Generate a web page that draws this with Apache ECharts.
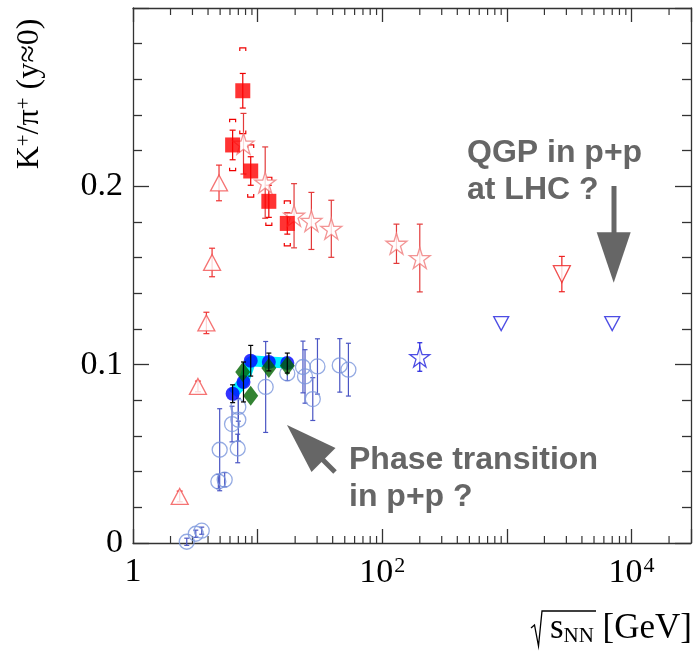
<!DOCTYPE html>
<html>
<head>
<meta charset="utf-8">
<script src="https://cdn.jsdelivr.net/npm/echarts@6/dist/echarts.min.js"></script>
<style>
  html, body { margin: 0; padding: 0; background: #fff; }
  #chart { width: 696px; height: 652px; }
</style>
</head>
<body>
<div id="chart"></div>
<script>
// ---- data (sqrt(s_NN) in GeV, K+/pi+ ratio, error) ----
// p+p world data (open circles)
const ppWorldE = [2.70, 3.19, 3.56, 4.84, 5.44, 4.96, 6.23, 7.0, 7.0, 6.92, 11.6, 17.3, 23.1, 24.0, 30.2, 27.7, 45.6, 53.5];
const ppWorldR = [0.0007, 0.0052, 0.0069, 0.0345, 0.0355, 0.0523, 0.0667, 0.0691, 0.0763, 0.0530, 0.0875, 0.0951, 0.0987, 0.0934, 0.0990, 0.0807, 0.0996, 0.0972];
const ppWorldErr = [0.002, 0.002, 0.002, 0.004, 0.004, 0.023, 0.010, 0.012, 0.008, 0.008, 0.0255, 0.004, 0.0145, 0.015, 0.0155, 0.012, 0.015, 0.0148];

// NA61 p+p (blue full circles)
const na61E = [6.3, 7.7, 8.8, 12.3, 17.3];
const na61R = [0.0837, 0.0903, 0.1022, 0.1015, 0.1009];
const na61Err = [0.005, 0.0112, 0.0086, 0.005, 0.0056];

// model / p+p (green diamonds)
const diamE = [7.6, 8.8, 12.3, 17.3];
const diamR = [0.0959, 0.0826, 0.0981, 0.0994];

// AGS A+A (open up triangles)
const agsE = [2.37, 3.32, 3.88, 4.31, 4.9];
const agsR = [0.0261, 0.0878, 0.1234, 0.1573, 0.2019];
const agsErr = [0.003, 0.003, 0.006, 0.008, 0.010];

// STAR Au+Au (open stars)
const starE = [7.7, 11.5, 19.6, 27, 39, 130, 200];
const starR = [0.2239, 0.2021, 0.1835, 0.1806, 0.1762, 0.1678, 0.1598];
const starErr = [0.017, 0.020, 0.018, 0.016, 0.016, 0.011, 0.019];

// NA49 Pb+Pb (full squares)
const na49E = [6.3, 7.6, 8.8, 12.3, 17.3];
const na49R = [0.2232, 0.2536, 0.2086, 0.1916, 0.1792];
const na49Err = [0.0083, 0.0097, 0.008, 0.009, 0.006];
const na49Sys = [0.0144, 0.024, 0.0146, 0.0135, 0.0126];

// ALICE Pb+Pb (open down triangle)
const aliceE = [2760];
const aliceR = [0.1508];
const aliceErr = [0.0099];

// p+p at LHC (blue down triangles) and RHIC (blue star)
const lhcPpE = [900, 7000];
const lhcPpR = [0.1230, 0.1230];
const rhicPpE = [200];
const rhicPpR = [0.1043];
const rhicPpErr = [0.008];

// axis
const xMinorTicks = [2, 3, 4, 5, 6, 7, 8, 9, 20, 30, 40, 50, 60, 70, 80, 90,
  200, 300, 400, 500, 600, 700, 800, 900, 2000, 3000, 4000, 5000, 6000, 7000, 8000, 9000, 20000];
const xLabels = { 1: '{n|1}', 100: '{n|10}{s|2}', 10000: '{n|10}{s|4}' };
const yLabels = ['0', '0.1', '0.2'];

const zip = (a, b, c, d) => a.map((v, i) => [v, b[i]].concat(c ? [c[i]] : []).concat(d ? [d[i]] : []));

const starPath = 'path://M50,0 L61.2,34.5 L97.6,34.5 L68.2,55.9 L79.4,90.5 L50,69.1 L20.6,90.5 L31.8,55.9 L2.4,34.5 L38.8,34.5 Z';
const serif = '"Liberation Serif", "Times New Roman", serif';
const sans = '"Liberation Sans", Arial, sans-serif';

function errBars(color, cap, width) {
  return function (params, api) {
    const x = api.value(0), y = api.value(1), e = api.value(2);
    const t = api.coord([x, y + e]);
    const b = api.coord([x, y - e]);
    const st = { stroke: color, lineWidth: width || 1.2 };
    return {
      type: 'group',
      children: [
        { type: 'line', shape: { x1: t[0], y1: t[1], x2: b[0], y2: b[1] }, style: st },
        { type: 'line', shape: { x1: t[0] - cap, y1: t[1], x2: t[0] + cap, y2: t[1] }, style: st },
        { type: 'line', shape: { x1: b[0] - cap, y1: b[1], x2: b[0] + cap, y2: b[1] }, style: st }
      ]
    };
  };
}

function sysBrackets(color) {
  return function (params, api) {
    const x = api.value(0), y = api.value(1), s = api.value(2);
    const t = api.coord([x, y + s]);
    const b = api.coord([x, y - s]);
    const st = { stroke: color, lineWidth: 1.2, fill: null };
    return {
      type: 'group',
      children: [
        { type: 'polyline', shape: { points: [[t[0] - 3, t[1] + 3], [t[0] - 3, t[1]], [t[0] + 3, t[1]], [t[0] + 3, t[1] + 3]] }, style: st },
        { type: 'polyline', shape: { points: [[b[0] - 3, b[1] - 3], [b[0] - 3, b[1]], [b[0] + 3, b[1]], [b[0] + 3, b[1] - 3]] }, style: st }
      ]
    };
  };
}

function minorTicks(params, api) {
  const v = api.value(0);
  const b = api.coord([v, 0]);
  const t = api.coord([v, 0.3]);
  const st = { stroke: '#333', lineWidth: 1.2 };
  return {
    type: 'group',
    children: [
      { type: 'line', shape: { x1: b[0], y1: b[1], x2: b[0], y2: b[1] - 7 }, style: st },
      { type: 'line', shape: { x1: t[0], y1: t[1], x2: t[0], y2: t[1] + 7 }, style: st }
    ]
  };
}

const openStyle = (c, w) => ({ color: 'rgba(0,0,0,0)', borderColor: c, borderWidth: w || 1.2 });
const whiteStyle = (c, w) => ({ color: '#fff', borderColor: c, borderWidth: w || 1.2 });

const chart = echarts.init(document.getElementById('chart'));

const axisLineStyle = { color: '#333', width: 1.3 };

const option = {
  animation: false,
  backgroundColor: '#fff',
  grid: { left: 133, top: 8, width: 558, height: 535 },
  xAxis: [
    {
      type: 'log', logBase: 10, min: 1, max: 30000, position: 'bottom',
      axisLine: { show: true, onZero: false, lineStyle: axisLineStyle },
      axisTick: { inside: true, length: 14, lineStyle: axisLineStyle },
      splitLine: { show: false },
      axisLabel: {
        margin: 12,
        formatter: function (v) {
          const k = Math.round(v);
          return xLabels[k] || '';
        },
        rich: {
          n: { fontFamily: serif, fontSize: 34, color: '#000' },
          s: { fontFamily: serif, fontSize: 22, color: '#000', verticalAlign: 'top', padding: [0, 0, 14, 1] }
        }
      }
    },
    {
      type: 'log', logBase: 10, min: 1, max: 30000, position: 'top',
      axisLine: { show: true, onZero: false, lineStyle: axisLineStyle },
      axisTick: { inside: true, length: 14, lineStyle: axisLineStyle },
      axisLabel: { show: false },
      splitLine: { show: false }
    }
  ],
  yAxis: [
    {
      type: 'value', min: 0, max: 0.3, interval: 0.1, position: 'left',
      axisLine: { show: true, onZero: false, lineStyle: axisLineStyle },
      axisTick: { inside: true, length: 16, lineStyle: axisLineStyle },
      minorTick: { show: true, splitNumber: 5, length: 9, lineStyle: axisLineStyle },
      splitLine: { show: false },
      axisLabel: {
        margin: 10,
        fontFamily: serif, fontSize: 34, color: '#000',
        formatter: function (v) {
          const i = Math.round(v * 10);
          return yLabels[i] || '';
        }
      }
    },
    {
      type: 'value', min: 0, max: 0.3, interval: 0.1, position: 'right',
      axisLine: { show: true, onZero: false, lineStyle: axisLineStyle },
      axisTick: { inside: true, length: 16, lineStyle: axisLineStyle },
      minorTick: { show: true, splitNumber: 5, length: 9, lineStyle: axisLineStyle },
      splitLine: { show: false },
      axisLabel: { show: false }
    }
  ],
  series: [
    {
      type: 'custom', name: 'ticks', clip: false, silent: true, z: 1,
      renderItem: minorTicks,
      data: xMinorTicks.map(v => [v, 0])
    },
    {
      type: 'custom', name: 'pp world err', renderItem: errBars('#4a55c4', 2.5),
      data: zip(ppWorldE, ppWorldR, ppWorldErr), z: 2
    },
    {
      type: 'scatter', name: 'pp world', symbol: 'circle', symbolSize: 15,
      itemStyle: openStyle('#7b96dc', 1.3), data: zip(ppWorldE, ppWorldR), z: 3
    },
    {
      type: 'line', name: 'NA61 sys', data: zip(na61E, na61R), showSymbol: false,
      lineStyle: { color: '#00f0ff', width: 11 }, z: 4, silent: true
    },
    {
      type: 'scatter', name: 'NA61 p+p', symbol: 'circle', symbolSize: 14,
      itemStyle: { color: '#0000ff' }, data: zip(na61E, na61R), z: 5
    },
    {
      type: 'scatter', name: 'diamonds', symbol: 'diamond', symbolSize: [15, 20],
      itemStyle: { color: '#006400' }, data: zip(diamE, diamR), z: 6
    },
    {
      type: 'custom', name: 'NA61 err', renderItem: errBars('#000', 2.5),
      data: zip(na61E, na61R, na61Err), z: 7
    },
    {
      type: 'custom', name: 'AGS err', renderItem: errBars('#ee3333', 3),
      data: zip(agsE, agsR, agsErr), z: 2
    },
    {
      type: 'scatter', name: 'AGS', symbol: 'triangle', symbolSize: [17, 16],
      itemStyle: whiteStyle('#f25050', 1.3), data: zip(agsE, agsR), z: 3
    },
    {
      type: 'custom', name: 'STAR err', renderItem: errBars('#e33a3a', 3),
      data: zip(starE, starR, starErr), z: 2
    },
    {
      type: 'scatter', name: 'STAR', symbol: starPath, symbolSize: 21,
      itemStyle: whiteStyle('#f07a7a', 1.3), data: zip(starE, starR), z: 3
    },
    {
      type: 'custom', name: 'NA49 err', renderItem: errBars('#ee0000', 3),
      data: zip(na49E, na49R, na49Err), z: 2
    },
    {
      type: 'custom', name: 'NA49 sys', renderItem: sysBrackets('#ee0000'),
      data: zip(na49E, na49R, na49Sys), z: 2
    },
    {
      type: 'scatter', name: 'NA49', symbol: 'rect', symbolSize: 15,
      itemStyle: { color: '#ff0000' }, data: zip(na49E, na49R), z: 8
    },
    {
      type: 'custom', name: 'ALICE err', renderItem: errBars('#ee2222', 3),
      data: zip(aliceE, aliceR, aliceErr), z: 2
    },
    {
      type: 'scatter', name: 'ALICE', symbol: 'triangle', symbolRotate: 180, symbolSize: [17, 17],
      itemStyle: whiteStyle('#ee2222', 1.3), data: zip(aliceE, aliceR), z: 3
    },
    {
      type: 'scatter', name: 'LHC p+p', symbol: 'triangle', symbolRotate: 180, symbolSize: [15, 14],
      itemStyle: whiteStyle('#2020dd', 1.3), data: zip(lhcPpE, lhcPpR), z: 3
    },
    {
      type: 'custom', name: 'RHIC err', renderItem: errBars('#2020dd', 2.5),
      data: zip(rhicPpE, rhicPpR, rhicPpErr), z: 2
    },
    {
      type: 'scatter', name: 'RHIC p+p', symbol: starPath, symbolSize: 20,
      itemStyle: whiteStyle('#2020dd', 1.3), data: zip(rhicPpE, rhicPpR), z: 3
    }
  ],
  graphic: [
    // y axis title
    {
      type: 'text', x: 30, y: 94, rotation: Math.PI / 2,
      style: {
        text: '{n|K}{sup|+}{n|/π}{sup|+}{n| (y≈0)}',
        align: 'center', verticalAlign: 'middle',
        rich: {
          n: { fontFamily: serif, fontSize: 32, fill: '#000' },
          sup: { fontFamily: serif, fontSize: 21, fill: '#000', verticalAlign: 'top', padding: [0, 0, 12, 0] }
        }
      }
    },
    // x axis title: radical sign drawn as a line, then text
    {
      type: 'polyline', shape: { points: [[531, 628], [534.5, 625], [538.5, 646], [542, 611], [596, 611]] },
      style: { stroke: '#000', lineWidth: 1.3, fill: null }
    },
    {
      type: 'text', x: 692, y: 629,
      style: {
        text: '{n|s}{sub|NN}{n| [GeV]}',
        align: 'right', verticalAlign: 'middle',
        rich: {
          n: { fontFamily: serif, fontSize: 35, fill: '#000' },
          sub: { fontFamily: serif, fontSize: 21, fill: '#000', verticalAlign: 'bottom', padding: [12, 0, 0, 0] }
        }
      }
    },
    // annotations
    {
      type: 'text', x: 467, y: 153,
      style: { text: 'QGP in p+p', font: 'bold 32px ' + sans, fill: '#666', verticalAlign: 'middle' }
    },
    {
      type: 'text', x: 467, y: 190,
      style: { text: 'at LHC ?', font: 'bold 32px ' + sans, fill: '#666', verticalAlign: 'middle' }
    },
    {
      type: 'text', x: 349, y: 460,
      style: { text: 'Phase transition', font: 'bold 32px ' + sans, fill: '#666', verticalAlign: 'middle' }
    },
    {
      type: 'text', x: 349, y: 497,
      style: { text: 'in p+p ?', font: 'bold 32px ' + sans, fill: '#666', verticalAlign: 'middle' }
    },
    // arrow down
    {
      type: 'rect', shape: { x: 611.5, y: 186, width: 5, height: 50 },
      style: { fill: '#666' }
    },
    {
      type: 'polygon', shape: { points: [[596.7, 232.3], [630.7, 232.3], [613.7, 282.7]] },
      style: { fill: '#666' }
    },
    // arrow up-left
    {
      type: 'line', shape: { x1: 320, y1: 457, x2: 335, y2: 472 },
      style: { stroke: '#666', lineWidth: 5 }
    },
    {
      type: 'polygon', shape: { points: [[287, 425], [311.5, 472], [335.5, 448]] },
      style: { fill: '#666' }
    }
  ]
};

chart.setOption(option);
</script>
</body>
</html>
